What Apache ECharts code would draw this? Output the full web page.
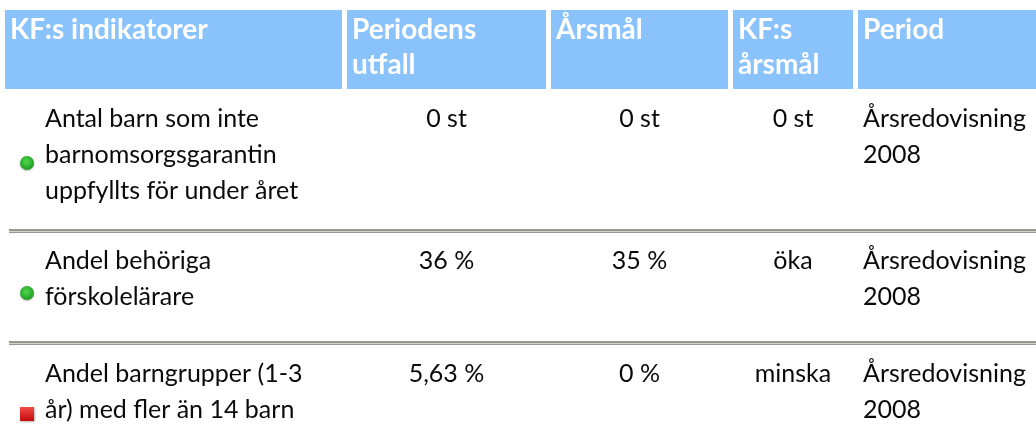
<!DOCTYPE html>
<html>
<head>
<meta charset="utf-8">
<script src="https://cdn.jsdelivr.net/npm/echarts@6/dist/echarts.min.js"></script>
<style>
  html, body { margin: 0; padding: 0; background: #fff; }
  #chart { width: 1036px; height: 430px; }
</style>
</head>
<body>
<div id="chart"></div>
<script>
// table content
const columns = ['KF:s indikatorer', 'Periodens\nutfall', 'Årsmål', 'KF:s\nårsmål', 'Period'];
const indicators = [
  'Antal barn som inte\nbarnomsorgsgarantin\nuppfyllts för under året',
  'Andel behöriga\nförskolelärare',
  'Andel barngrupper (1-3\når) med fler än 14 barn',
];
const statuses = ['uppfyllt', 'uppfyllt', 'ej uppfyllt'];
const outcomes = ['0 st', '36 %', '5,63 %'];
const targets = ['0 st', '35 %', '0 %'];
const kfTargets = ['0 st', 'öka', 'minska'];
const periods = ['Årsredovisning\n2008', 'Årsredovisning\n2008', 'Årsredovisning\n2008'];

// layout (page units, mapped through the hidden axes)
const COL_LEFT = [5, 347, 551, 733, 858];
const COL_RIGHT = [342, 546, 728, 853, 1036];
const HEAD_TOP = 10;
const HEAD_BOTTOM = 89;
const ROW_TEXT_TOP = [101, 243, 356];
const ICON_Y = [163, 293, 414];
const RULE_Y = [229, 341];

const BODY_FONT = '25px Lato';
const HEAD_FONT = 'bold 28px Lato';

const chart = echarts.init(document.getElementById('chart'), null, { renderer: 'canvas' });

const headerItem = (params, api) => {
  const i = api.value(0);
  const p0 = api.coord([COL_LEFT[i], HEAD_TOP]);
  const p1 = api.coord([COL_RIGHT[i], HEAD_BOTTOM]);
  return {
    type: 'group',
    children: [
      {
        type: 'rect',
        shape: { x: p0[0], y: p0[1], width: p1[0] - p0[0], height: p1[1] - p0[1] },
        style: { fill: '#8ac2fb' },
      },
      {
        type: 'text',
        x: p0[0] + 5,
        y: p0[1] + 2,
        style: {
          text: columns[params.dataIndex],
          font: HEAD_FONT,
          fill: '#fff',
          lineHeight: 35,
          align: 'left',
          verticalAlign: 'top',
        },
      },
    ],
  };
};

const rowItem = (params, api) => {
  const r = api.value(0);
  const top = ROW_TEXT_TOP[r];
  const children = [];
  const iconPos = api.coord([27, ICON_Y[r]]);
  if (statuses[r] === 'uppfyllt') {
    children.push({
      type: 'circle',
      shape: { cx: iconPos[0], cy: iconPos[1], r: 7 },
      style: {
        fill: new echarts.graphic.RadialGradient(0.45, 0.4, 0.6, [
          { offset: 0, color: '#4fd84f' },
          { offset: 1, color: '#1f9a22' },
        ]),
        shadowColor: 'rgba(0,0,0,0.25)',
        shadowBlur: 2,
        shadowOffsetY: 1,
      },
    });
  } else {
    children.push({
      type: 'rect',
      shape: { x: iconPos[0] - 7, y: iconPos[1] - 7, width: 14, height: 14 },
      style: {
        fill: new echarts.graphic.LinearGradient(0, 0, 0, 1, [
          { offset: 0, color: '#f24a4a' },
          { offset: 1, color: '#c40a0a' },
        ]),
        shadowColor: 'rgba(0,0,0,0.3)',
        shadowBlur: 2,
        shadowOffsetX: 1,
        shadowOffsetY: 1,
      },
    });
  }
  const textAt = (x, str, align) => {
    const p = api.coord([x, top]);
    return {
      type: 'text',
      x: p[0],
      y: p[1],
      style: { text: str, font: BODY_FONT, fill: '#0a0a0a', lineHeight: 36, align, verticalAlign: 'top' },
    };
  };
  children.push(textAt(45, indicators[r], 'left'));
  children.push(textAt((COL_LEFT[1] + COL_RIGHT[1]) / 2, outcomes[r], 'center'));
  children.push(textAt((COL_LEFT[2] + COL_RIGHT[2]) / 2, targets[r], 'center'));
  children.push(textAt((COL_LEFT[3] + COL_RIGHT[3]) / 2, kfTargets[r], 'center'));
  children.push(textAt(COL_LEFT[4] + 5, periods[r], 'left'));
  if (r < RULE_Y.length) {
    const a = api.coord([9, RULE_Y[r]]);
    const b = api.coord([1036, RULE_Y[r] + 4]);
    children.push({
      type: 'rect',
      shape: { x: a[0], y: a[1], width: b[0] - a[0], height: b[1] - a[1] },
      style: { fill: '#979790' },
    });
    children.push({
      type: 'rect',
      shape: { x: a[0], y: a[1] + 2, width: b[0] - a[0], height: 1 },
      style: { fill: '#d2d2cc' },
    });
  }
  return { type: 'group', children };
};

chart.setOption({
  backgroundColor: '#fff',
  animation: false,
  grid: { left: 0, right: 0, top: 0, bottom: 0 },
  xAxis: { type: 'value', min: 0, max: 1036, show: false },
  yAxis: { type: 'value', min: 0, max: 430, inverse: true, show: false },
  series: [
    {
      type: 'custom',
      name: 'header',
      renderItem: headerItem,
      data: columns.map((c, i) => [i]),
      silent: true,
    },
    {
      type: 'custom',
      name: 'rows',
      renderItem: rowItem,
      data: indicators.map((c, i) => [i]),
      silent: true,
    },
  ],
});
window.addEventListener('resize', chart.resize);
</script>
</body>
</html>
